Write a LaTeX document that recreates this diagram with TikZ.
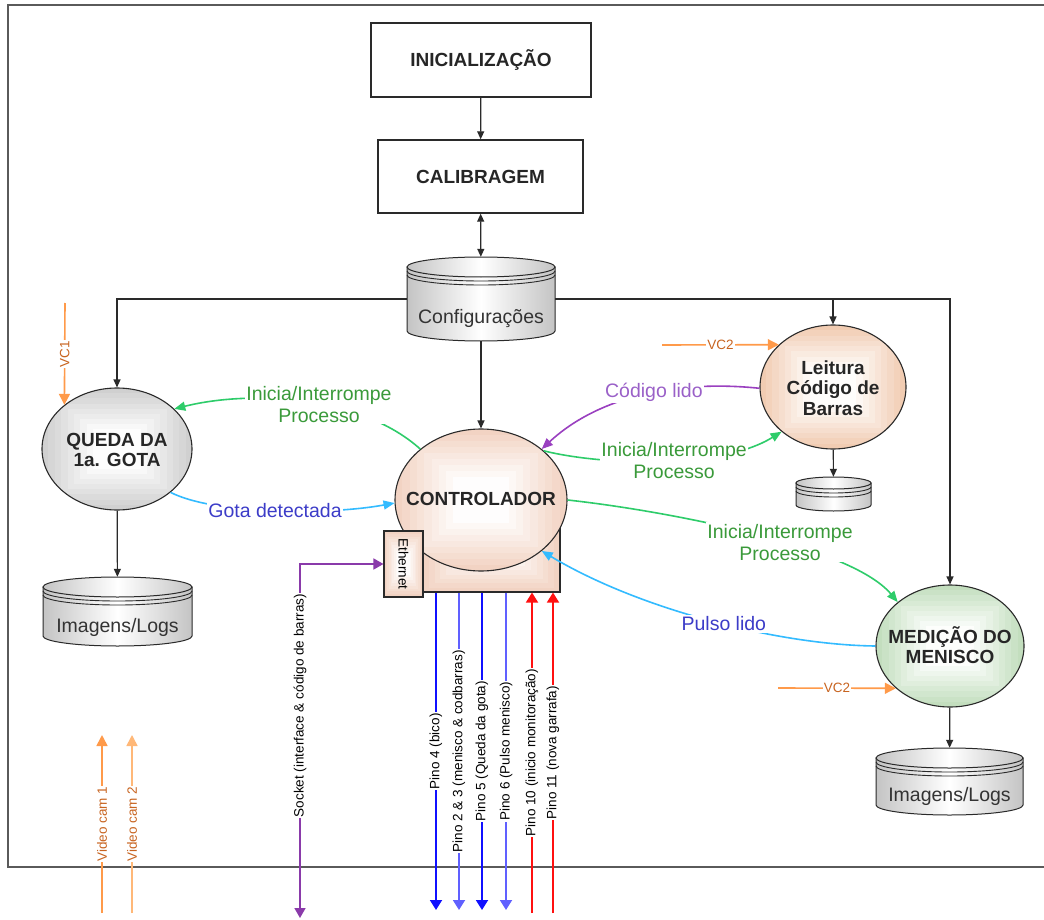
\documentclass[tikz,border=0pt]{standalone}
\usepackage{fontspec}
\setmainfont{Liberation Sans}
\usetikzlibrary{arrows.meta,shapes.geometric}

\definecolor{edgeC}{HTML}{2A2A2A}
\definecolor{frameC}{HTML}{5A5A5A}
\definecolor{gLine}{HTML}{2ECC6A}
\definecolor{gText}{HTML}{3A9A3A}
\definecolor{cLine}{HTML}{33BBFF}
\definecolor{bText}{HTML}{3C3CC8}
\definecolor{pLine}{HTML}{9A40C0}
\definecolor{pText}{HTML}{9A60C8}
\definecolor{oLine}{HTML}{FF9A4A}
\definecolor{oLineL}{HTML}{FFB878}
\definecolor{oText}{HTML}{C86420}
\definecolor{pinA}{HTML}{1010FF}
\definecolor{pinB}{HTML}{6060FF}
\definecolor{pinR}{HTML}{FF1010}
\definecolor{sockC}{HTML}{8A3AAA}
\definecolor{grayF}{HTML}{D0D0D0}
\definecolor{peachF}{HTML}{F2D3C3}
\definecolor{salmonF}{HTML}{F1CCB2}
\definecolor{greenF}{HTML}{C3DEBE}
\definecolor{cylF}{HTML}{C4C4C4}

% nested rectangles, lightening towards the centre
\newcommand\shadebox[5]{%
  \foreach \k in {0,...,8}{%
    \pgfmathsetmacro\gs{1-0.085*\k}%
    \pgfmathtruncatemacro\gp{12*\k}%
    \fill[white!\gp!#5] ({#1-\gs*#3},{#2-\gs*#4}) rectangle ({#1+\gs*#3},{#2+\gs*#4});}}
% the same, clipped to an ellipse
\newcommand\shadedisc[5]{%
  \begin{scope}
    \clip (#1,#2) ellipse [x radius=#3, y radius=#4];
    \shadebox{#1}{#2}{#3}{#4}{#5}
  \end{scope}}
% data store drum: name, cx, top, half width, height, end radius, label
\newcommand\dbdrum[7]{%
  \pgfmathsetmacro\dL{#2-#4}%
  \pgfmathsetmacro\dR{#2+#4}%
  \pgfmathsetmacro\dT{#3+#6}%
  \pgfmathsetmacro\dB{#3+#5-#6}%
  \path[drumfill, draw=edgeC, line width=1pt] (\dL,\dT) -- (\dL,\dB)
     arc[start angle=180, end angle=0, x radius=#4, y radius=#6] -- (\dR,\dT) -- cycle;
  \path[drumfill, draw=edgeC, line width=1pt] (#2,\dT) ellipse [x radius=#4, y radius=#6];
  \draw[edgeC, line width=0.9pt] (\dL,\dT+4) arc[start angle=180, end angle=0, x radius=#4, y radius=#6];
  \draw[edgeC, line width=0.9pt] (\dL,\dT+8) arc[start angle=180, end angle=0, x radius=#4, y radius=#6];
  \node[inner sep=0pt, minimum width={2*#4*1pt}, minimum height={#5*1pt}] (#1) at (#2,{#3+#5/2}) {};
  \node[drumtext] at (#2,{#3+0.73*#5}) {#7};
}

\tikzset{
  drumfill/.style={left color=cylF, right color=cylF, middle color=white},
  drumtext/.style={font=\fontsize{19.5}{21}\selectfont, text=black!80, inner sep=0pt},
  procbox/.style={draw=edgeC, line width=1.4pt, fill=white, inner sep=0pt,
                  font=\fontsize{19}{21}\selectfont\bfseries, text=black!85},
  disc/.style={ellipse, draw=edgeC, line width=1.1pt, inner sep=0pt},
  bigT/.style={font=\fontsize{19}{20.5}\selectfont\bfseries, align=center, text=black!85, inner sep=0pt},
  mlbl/.style={fill=white, inner sep=1.5pt, font=\fontsize{19.5}{22}\selectfont, align=center},
  slbl/.style={fill=white, inner sep=1pt, font=\fontsize{13.5}{15}\selectfont},
  blk/.style={draw=edgeC, line width=1.2pt, -{Triangle[length=8pt,width=7pt]}},
  blkboth/.style={draw=edgeC, line width=1.2pt, {Triangle[length=8pt,width=7pt]}-{Triangle[length=8pt,width=7pt]}},
  gcurve/.style={draw=gLine, line width=1.6pt, -{Triangle[length=11pt,width=9pt]}},
  ccurve/.style={draw=cLine, line width=1.6pt, -{Triangle[length=11pt,width=9pt]}},
  pcurve/.style={draw=pLine, line width=1.6pt, -{Triangle[length=11pt,width=9pt]}},
  orgarrow/.style={draw=#1, line width=1.6pt, -{Triangle[length=11pt,width=11pt]}},
  pinarrow/.style={draw=#1, line width=1.8pt, -{Triangle[length=10pt,width=12pt]}},
  sockarrow/.style={draw=sockC, line width=1.6pt,
    {Triangle[length=10pt,width=11pt]}-{Triangle[length=10pt,width=11pt]}},
}

\begin{document}
\begin{tikzpicture}[x=1pt,y=-1pt]
\useasboundingbox (0,0) rectangle (1044,920);
\fill[white] (0,0) rectangle (1044,920);

% outer frame, open on the right
\draw[frameC, line width=2pt] (1044,5) -- (8,5) -- (8,867) -- (1044,867);

% process boxes
\node[procbox, minimum width=220pt, minimum height=74pt] (ini) at (481,60) {INICIALIZAÇÃO};
\node[procbox, minimum width=205pt, minimum height=73pt] (cal) at (480.5,176.5) {CALIBRAGEM};

% data stores
\dbdrum{cfg}{481}{257}{74}{84}{10}{Configurações}
\dbdrum{imgA}{117.5}{577}{74.5}{69}{10}{Imagens/Logs}
\dbdrum{imgB}{949.5}{748}{73.5}{67}{10}{Imagens/Logs}
\dbdrum{drum}{833.5}{477}{37.5}{34}{6}{}

% controller board behind the controller
\shadebox{491.5}{541}{68.5}{51}{peachF}
\node[draw=edgeC, line width=1.1pt, minimum width=137pt, minimum height=102pt, inner sep=0pt] (board) at (491.5,541) {};

% processes
\shadedisc{117}{449}{75}{61}{grayF}
\node[disc, minimum width=150pt, minimum height=122pt] (queda) at (117,449) {};
\node[bigT] (quedaT) at (117,450) {QUEDA DA\\1a. GOTA};

\shadedisc{481}{500}{86}{71}{peachF}
\node[disc, minimum width=172pt, minimum height=142pt] (ctrl) at (481,500) {};
\node[bigT] (ctrlT) at (481,499) {CONTROLADOR};

\shadedisc{833}{387}{73}{62}{salmonF}
\node[disc, minimum width=146pt, minimum height=124pt] (leit) at (833,387) {};
\node[bigT] (leitT) at (833,388) {Leitura\\Código de\\Barras};

\shadedisc{950}{646}{74}{61}{greenF}
\node[disc, minimum width=148pt, minimum height=122pt] (med) at (950,646) {};
\node[bigT] (medT) at (950,645) {MEDIÇÃO DO\\MENISCO};

% Ethernet port
\shadebox{403.5}{564}{19.5}{33}{peachF}
\node[draw=edgeC, line width=1.1pt, minimum width=39pt, minimum height=66pt, inner sep=0pt] (eth) at (403.5,564) {};
\node[rotate=-90, font=\fontsize{13.5}{15}\selectfont, inner sep=0pt] (ethT) at (eth) {Ethernet};

% control flow
\draw[blk] (ini) -- (cal);
\draw[blkboth] (cal) -- (cfg);
\draw[blk] (cfg.west) -| (queda);
\draw[blk] (cfg.east) -| (leit);
\draw[blk] (cfg.east) -| (med);
\draw[blk] (cfg) -- (ctrl);
\draw[blk] (queda) -- (imgA);
\draw[blk] (leit) -- (drum);
\draw[blk] (med) -- (imgB);

% camera inputs
\coordinate (vc1s) at (65,303);
\draw[orgarrow=oLine] (vc1s) -- node[slbl, rotate=90, text=oText] {VC1} (queda.140);
\coordinate (vc2a) at (662,345);
\draw[orgarrow=oLine] (vc2a) -- node[slbl, text=oText] {VC2} (leit.142);
\coordinate (vc2b) at (778,688);
\draw[orgarrow=oLine] (vc2b) -- node[slbl, text=oText] {VC2} (med.218);

% messages between processes
\draw[gcurve] (ctrl.140) .. controls (360,395) and (250,390) .. (queda.35)
  node[mlbl, text=gText, pos=0.44] {Inicia/Interrompe\\Processo};
\draw[ccurve] (queda.321) .. controls (215,515) and (330,515) .. (ctrl.182)
  node[mlbl, text=bText, pos=0.5] {Gota detectada};
\draw[pcurve] (leit.181) .. controls (680,380) and (600,395) .. (ctrl.40)
  node[mlbl, text=pText, pos=0.45] {Código lido};
\draw[gcurve] (ctrl.38) .. controls (600,465) and (720,470) .. (leit.221)
  node[mlbl, text=gText, pos=0.55] {Inicia/Interrompe\\Processo};
\draw[gcurve] (ctrl.0) .. controls (660,510) and (850,545) .. (med.140)
  node[mlbl, text=gText, pos=0.58] {Inicia/Interrompe\\Processo};
\draw[ccurve] (med.180) .. controls (780,645) and (640,610) .. (ctrl.320)
  node[mlbl, text=bText, pos=0.46] {Pulso lido};

% socket link to the Ethernet port
\coordinate (sk) at (300,918);
\draw[sockarrow] (sk) |- node[slbl, rotate=90, pos=0.3] {Socket (interface \& código de barras)} (eth.west);

% parallel port pins
\coordinate (p4) at (436,910);
\coordinate (p23) at (459,910);
\coordinate (p5) at (482,910);
\coordinate (p6) at (506,910);
\coordinate (p10) at (532,913);
\coordinate (p11) at (553,913);
\draw[pinarrow=pinA] (p4 |- board.south) -- node[slbl, rotate=90] {Pino 4 (bico)} (p4);
\draw[pinarrow=pinB] (p23 |- board.south) -- node[slbl, rotate=90] {Pino 2 \& 3 (menisco \& codbarras)} (p23);
\draw[pinarrow=pinA] (p5 |- board.south) -- node[slbl, rotate=90] {Pino 5 (Queda da gota)} (p5);
\draw[pinarrow=pinB] (p6 |- board.south) -- node[slbl, rotate=90] {Pino 6 (Pulso menisco)} (p6);
\draw[pinarrow=pinR] (p10) -- node[slbl, rotate=90] {Pino 10 (inicio monitoração)} (p10 |- board.south);
\draw[pinarrow=pinR] (p11) -- node[slbl, rotate=90] {Pino 11 (nova garrafa)} (p11 |- board.south);

% video cameras
\coordinate (cam1) at (102,913);
\coordinate (cam1t) at (102,735);
\coordinate (cam2) at (132,913);
\coordinate (cam2t) at (132,735);
\draw[orgarrow=oLine] (cam1) -- node[slbl, rotate=90, text=oText] {Video cam 1} (cam1t);
\draw[orgarrow=oLineL] (cam2) -- node[slbl, rotate=90, text=oText] {Video cam 2} (cam2t);
\end{tikzpicture}
\end{document}
